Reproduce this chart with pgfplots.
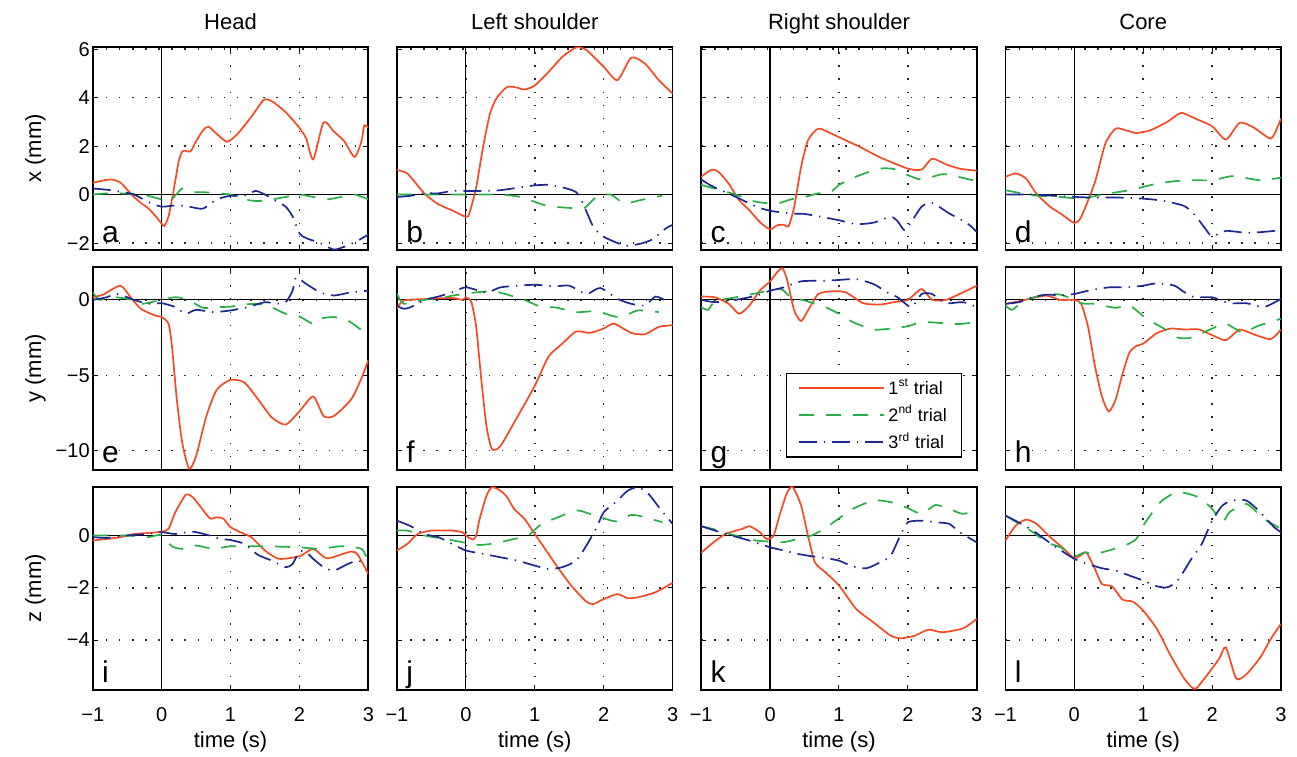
\documentclass[border=0pt]{standalone}
\usepackage{fontspec}
\setmainfont{Liberation Sans}
\usepackage{pgfplots}
\pgfplotsset{compat=1.18}
\usepgfplotslibrary{groupplots}

\definecolor{cred}{RGB}{245,75,35}
\definecolor{cgreen}{RGB}{40,175,70}
\definecolor{cblue}{RGB}{30,40,145}

\pgfplotsset{
  t1/.style={cred, solid, line width=0.85pt, smooth, tension=0.4},
  t2/.style={cgreen, line width=0.85pt, dash pattern=on 7.5pt off 6pt, smooth, tension=0.4},
  t3/.style={cblue, line width=0.85pt, dash pattern=on 9pt off 3.5pt on 0.7pt off 3.5pt, smooth, tension=0.4},
  zl/.style={black, line width=0.6pt, forget plot},
  row1/.style={ymin=-2.3, ymax=6.1, ytick={-2,0,2,4,6}},
  row2/.style={ymin=-11.3, ymax=2.2, ytick={-10,-5,0}},
  row3/.style={ymin=-5.92, ymax=1.87, ytick={-4,-2,0}},
}
\newcommand\plab[1]{\node[anchor=base west, inner sep=0pt, font=\fontsize{15}{15}\selectfont] at ([xshift=4.5pt,yshift=3.65pt]rel axis cs:0,0) {#1};}
\newcommand\ttl[1]{\node[anchor=base, inner sep=0pt, font=\fontsize{11}{12}\selectfont] at ([yshift=8.7pt]rel axis cs:0.5,1) {#1};}
\newcommand\xlab{\node[anchor=base, inner sep=0pt, font=\fontsize{11}{12}\selectfont] at ([yshift=-28.5pt]rel axis cs:0.5,0) {time (s)};}
\newcommand\ylab[1]{\node[rotate=90, anchor=base, inner sep=0pt, font=\fontsize{11}{12}\selectfont] at ([xshift=-25.85pt]rel axis cs:0,0.5) {#1};}
\newcommand\zl[2]{\addplot[zl] coordinates {(-1,0) (3,0)};\addplot[zl] coordinates {(0,#1) (0,#2)};}

\begin{document}
\begin{tikzpicture}
\begin{groupplot}[
  group style={group size=4 by 3, horizontal sep=14.3pt, vertical sep=8.2pt,
    xticklabels at=edge bottom, yticklabels at=edge left},
  scale only axis, width=137.75pt, height=101.75pt,
  clip mode=individual,
  xmin=-1, xmax=3, xtick={-1,0,1,2,3}, xticklabels={−1,0,1,2,3},
  tick align=inside, major tick length=2.5pt,
  tick style={black, line width=0.5pt},
  axis line style={black, line width=0.9pt},
  grid=major,
  major grid style={black!85, line width=0.75pt, dash pattern=on 0.75pt off 5.8pt},
  ticklabel style={font=\fontsize{10}{11}\selectfont},
  xticklabel style={anchor=north, inner sep=0pt, yshift=-8.5pt},
  yticklabel style={anchor=east, inner sep=0pt, xshift=-1.35pt},
  legend image code/.code={\draw[#1] (0pt,0pt) -- (42.5pt,0pt);},
]
% ---------- a
\nextgroupplot[row1, yticklabels={−2,0,2,4,6}]
\zl{-2.3}{6.1}
\addplot[t1] coordinates {(-1,0.48) (-0.85,0.58) (-0.72,0.62) (-0.6,0.5) (-0.5,0.2) (-0.4,-0.1) (-0.3,-0.35) (-0.2,-0.55) (-0.1,-0.85) (0,-1.2) (0.04,-1.3) (0.1,-0.9) (0.15,-0.2) (0.2,0.6) (0.25,1.4) (0.3,1.78) (0.35,1.8) (0.42,1.78) (0.5,2.2) (0.6,2.65) (0.68,2.8) (0.8,2.5) (0.95,2.18) (1.1,2.5) (1.3,3.2) (1.48,3.9) (1.6,3.85) (1.8,3.4) (2.0,2.75) (2.1,2.3) (2.2,1.45) (2.35,2.98) (2.5,2.6) (2.65,2.2) (2.8,1.55) (2.9,2.2) (2.94,2.85) (3.0,2.75)};
\addplot[t2] coordinates {(-1,0.0) (-0.8,0.05) (-0.6,0.05) (-0.4,0.02) (-0.2,-0.05) (0,-0.2) (0.13,-0.23) (0.3,0.25) (0.45,0.1) (0.6,0.1) (0.8,0.05) (1.0,0.0) (1.2,-0.2) (1.4,-0.27) (1.6,-0.2) (1.8,-0.1) (2.0,0.0) (2.2,-0.1) (2.4,-0.2) (2.6,-0.1) (2.8,0.0) (3.0,-0.2)};
\addplot[t3] coordinates {(-1,0.25) (-0.8,0.2) (-0.6,0.12) (-0.4,0.0) (-0.2,-0.3) (0,-0.5) (0.22,-0.44) (0.4,-0.5) (0.6,-0.58) (0.8,-0.2) (1.0,-0.05) (1.2,-0.05) (1.36,0.15) (1.5,0.0) (1.65,-0.25) (1.8,-0.5) (1.9,-0.9) (2.0,-1.6) (2.1,-1.8) (2.3,-2.0) (2.5,-2.27) (2.7,-2.1) (2.85,-1.9) (3.0,-1.65)};
\plab{a}\ttl{Head}\ylab{x (mm)}
% ---------- b
\nextgroupplot[row1]
\zl{-2.3}{6.1}
\addplot[t1] coordinates {(-1,1.0) (-0.85,0.87) (-0.6,0.04) (-0.4,-0.4) (-0.2,-0.65) (0,-0.92) (0.05,-0.78) (0.15,0.3) (0.25,1.97) (0.35,3.34) (0.45,4.0) (0.6,4.44) (0.75,4.41) (0.85,4.33) (1.0,4.5) (1.2,5.06) (1.4,5.68) (1.6,6.07) (1.75,5.96) (2.0,5.27) (2.2,4.72) (2.4,5.65) (2.6,5.4) (2.8,4.72) (3.0,4.17)};
\addplot[t2] coordinates {(-1,0.0) (-0.5,0.0) (0,0.0) (0.5,0.0) (0.8,-0.1) (1.0,-0.3) (1.2,-0.48) (1.5,-0.55) (1.7,-0.58) (1.8,-0.35) (1.9,-0.1) (2.1,0.0) (2.3,-0.37) (2.5,-0.25) (2.85,-0.05)};
\addplot[t3] coordinates {(-1,-0.1) (-0.8,-0.05) (-0.6,0.05) (-0.4,0.05) (-0.2,0.15) (0,0.15) (0.3,0.15) (0.5,0.18) (0.8,0.3) (1.0,0.38) (1.2,0.4) (1.4,0.3) (1.6,0.1) (1.7,-0.37) (1.85,-1.33) (2.0,-1.74) (2.3,-2.1) (2.5,-2.05) (2.7,-1.86) (2.9,-1.4) (3.0,-1.25)};
\plab{b}\ttl{Left shoulder}
% ---------- c
\nextgroupplot[row1]
\zl{-2.3}{6.1}
\addplot[t1] coordinates {(-1,0.73) (-0.85,1.03) (-0.75,0.94) (-0.6,0.45) (-0.45,-0.23) (-0.3,-0.65) (-0.15,-1.13) (0,-1.44) (0.1,-1.27) (0.2,-1.25) (0.27,-1.3) (0.35,-0.5) (0.45,1.14) (0.55,2.24) (0.7,2.72) (0.9,2.5) (1.05,2.3) (1.3,1.97) (1.6,1.53) (2.0,1.07) (2.2,1.03) (2.35,1.48) (2.55,1.25) (2.75,1.07) (3.0,0.98)};
\addplot[t2] coordinates {(-1,0.4) (-0.75,0.2) (-0.5,0.0) (-0.2,-0.3) (0.1,-0.37) (0.3,-0.2) (0.5,-0.1) (0.7,0.05) (0.9,0.15) (1.0,0.4) (1.3,0.8) (1.6,1.07) (1.8,1.05) (2.0,0.8) (2.2,0.62) (2.5,0.84) (2.7,0.75) (3.0,0.55)};
\addplot[t3] coordinates {(-1,0.62) (-0.85,0.36) (-0.6,0.04) (-0.4,-0.23) (-0.2,-0.5) (0,-0.67) (0.3,-0.78) (0.5,-0.8) (0.75,-0.92) (1.0,-1.06) (1.25,-1.22) (1.5,-1.16) (1.75,-0.92) (1.85,-1.1) (1.95,-1.47) (2.05,-1.13) (2.2,-0.5) (2.35,-0.34) (2.6,-0.78) (2.85,-1.16) (3.0,-1.54)};
\plab{c}\ttl{Right shoulder}
% ---------- d
\nextgroupplot[row1]
\zl{-2.3}{6.1}
\addplot[t1] coordinates {(-1,0.73) (-0.85,0.87) (-0.7,0.66) (-0.55,0.04) (-0.35,-0.51) (-0.2,-0.78) (0,-1.17) (0.1,-0.92) (0.3,0.52) (0.45,2.1) (0.6,2.72) (0.75,2.65) (0.9,2.54) (1.1,2.65) (1.35,3.0) (1.55,3.37) (1.75,3.14) (2.0,2.82) (2.2,2.27) (2.4,2.96) (2.6,2.77) (2.85,2.31) (2.95,2.79) (3.0,3.14)};
\addplot[t2] coordinates {(-1,0.18) (-0.6,-0.03) (-0.2,-0.1) (0.1,-0.17) (0.4,0.0) (0.8,0.18) (1.2,0.45) (1.6,0.59) (2.0,0.59) (2.3,0.76) (2.7,0.59) (3.0,0.7)};
\addplot[t3] coordinates {(-1,0.0) (-0.6,0.0) (-0.2,-0.07) (0.2,-0.12) (0.6,-0.12) (1.0,-0.17) (1.3,-0.26) (1.6,-0.48) (1.75,-0.85) (1.9,-1.4) (2.0,-1.72) (2.2,-1.5) (2.5,-1.58) (2.75,-1.54) (3.0,-1.47)};
\plab{d}\ttl{Core}
% ---------- e
\nextgroupplot[row2, yticklabels={−10,−5,0}]
\zl{-11.3}{2.2}
\addplot[t1] coordinates {(-1,0.17) (-0.85,0.35) (-0.6,0.94) (-0.45,0.17) (-0.3,-0.6) (-0.1,-1.03) (0,-1.14) (0.1,-1.58) (0.15,-3.1) (0.22,-6.6) (0.3,-9.5) (0.4,-11.2) (0.5,-10.35) (0.65,-7.7) (0.8,-5.96) (1.0,-5.3) (1.2,-5.48) (1.4,-6.6) (1.6,-7.8) (1.8,-8.27) (2.0,-7.39) (2.2,-6.4) (2.35,-7.7) (2.5,-7.7) (2.75,-6.6) (2.9,-5.2) (3.0,-4.0)};
\addplot[t2] coordinates {(-1,0.5) (-0.9,0.0) (-0.75,0.2) (-0.5,0.07) (-0.3,-0.26) (-0.1,-0.1) (0.2,0.18) (0.4,-0.04) (0.6,-0.53) (0.8,-0.48) (1.0,-0.45) (1.2,-0.3) (1.4,-0.28) (1.6,-0.5) (1.8,-0.92) (2.0,-1.1) (2.1,-1.36) (2.2,-1.58) (2.3,-1.25) (2.5,-1.14) (2.7,-1.36) (2.9,-2.0) (3.0,-2.24)};
\addplot[t3] coordinates {(-1,0.0) (-0.8,0.17) (-0.65,0.4) (-0.4,0.0) (-0.2,-0.26) (0,-0.22) (0.2,-0.48) (0.35,-0.92) (0.5,-0.66) (0.75,-0.81) (1.0,-0.7) (1.25,-0.48) (1.5,-0.15) (1.65,-0.25) (1.8,-0.15) (1.9,0.61) (1.95,1.49) (2.1,1.05) (2.3,0.5) (2.5,0.29) (2.75,0.5) (3.0,0.61)};
\plab{e}\ylab{y (mm)}
% ---------- f
\nextgroupplot[row2]
\zl{-11.3}{2.2}
\addplot[t1] coordinates {(-1,-0.59) (-0.9,-0.04) (-0.5,0.07) (-0.2,0.13) (-0.05,0.0) (0,0.17) (0.08,-0.15) (0.15,-1.8) (0.22,-5.1) (0.3,-8.4) (0.38,-9.9) (0.5,-9.7) (0.7,-8.14) (1.0,-5.7) (1.2,-3.76) (1.4,-2.9) (1.6,-2.1) (1.8,-2.19) (2.0,-1.9) (2.15,-1.58) (2.4,-2.19) (2.6,-2.28) (2.8,-1.79) (3.0,-1.68)};
\addplot[t2] coordinates {(-1,0.4) (-0.9,-0.26) (-0.6,0.0) (-0.3,0.17) (-0.2,0.28) (0.15,0.5) (0.4,0.57) (0.6,0.35) (0.85,0.0) (1.1,-0.48) (1.3,-0.5) (1.6,-0.81) (1.9,-0.75) (2.1,-1.03) (2.25,-1.14) (2.5,-0.7) (2.8,-0.81)};
\addplot[t3] coordinates {(-1,-0.4) (-0.9,-0.59) (-0.8,-0.48) (-0.6,0.0) (-0.4,0.22) (-0.2,0.5) (0,0.83) (0.3,0.5) (0.5,0.83) (0.75,0.94) (1.0,1.0) (1.3,0.9) (1.5,0.94) (1.75,0.39) (1.95,0.79) (2.2,0.07) (2.4,-0.26) (2.6,-0.37) (2.75,0.22) (2.9,-0.04)};
\plab{f}
% ---------- g
\nextgroupplot[row2, legend style={at={(1,0)}, anchor=south east, xshift=-7.15pt, yshift=6.35pt, draw=black, line width=0.6pt, fill=white, font=\fontsize{9}{10}\selectfont, inner xsep=5.5pt, inner ysep=0.5pt, row sep=0pt, cells={anchor=west}}]
\zl{-11.3}{2.2}
\addplot[t1] coordinates {(-1,0.22) (-0.8,0.17) (-0.6,-0.26) (-0.45,-0.92) (-0.3,-0.37) (-0.15,0.61) (0,1.23) (0.1,1.82) (0.18,2.1) (0.25,1.27) (0.35,-0.7) (0.45,-1.4) (0.55,-0.7) (0.7,0.39) (0.9,0.57) (1.1,0.5) (1.35,-0.22) (1.6,-0.31) (1.8,-0.15) (2.0,0.0) (2.2,0.72) (2.35,0.0) (2.55,0.0) (2.75,0.39) (3.0,0.94)};
\addlegendentry{1\textsuperscript{st} trial}
\addplot[t2] coordinates {(-1,-0.48) (-0.9,-0.66) (-0.8,-0.1) (-0.5,0.17) (-0.2,0.44) (0.15,0.72) (0.3,0.18) (0.5,-0.04) (0.8,-0.48) (1.0,-0.92) (1.2,-1.47) (1.5,-1.97) (1.75,-1.9) (2.0,-1.75) (2.2,-1.47) (2.5,-1.54) (2.75,-1.6) (3.0,-1.47)};
\addlegendentry{2\textsuperscript{nd} trial}
\addplot[t3] coordinates {(-1,0.0) (-0.8,-0.15) (-0.5,0.0) (-0.2,0.28) (0,0.61) (0.2,0.83) (0.45,1.23) (0.8,1.27) (1.0,1.32) (1.25,1.38) (1.5,1.05) (1.7,0.5) (1.85,0.17) (2.05,-0.48) (2.2,0.39) (2.35,0.39) (2.55,-0.22) (2.8,-0.15) (3.0,-0.48)};
\addlegendentry{3\textsuperscript{rd} trial}
\plab{g}
% ---------- h
\nextgroupplot[row2]
\zl{-11.3}{2.2}
\addplot[t1] coordinates {(-1,-0.26) (-0.8,-0.09) (-0.6,0.13) (-0.4,0.28) (-0.2,0.0) (0,0.0) (0.1,-0.26) (0.2,-1.8) (0.3,-4.4) (0.4,-6.4) (0.5,-7.4) (0.6,-6.6) (0.7,-4.9) (0.8,-3.5) (0.9,-3.06) (1.0,-2.9) (1.2,-2.2) (1.4,-1.9) (1.6,-1.97) (1.8,-1.95) (2.0,-2.34) (2.2,-2.67) (2.4,-1.97) (2.6,-2.28) (2.85,-2.6) (3.0,-1.97)};
\addplot[t2] coordinates {(-1,-0.37) (-0.9,-0.66) (-0.75,-0.1) (-0.5,0.28) (-0.2,0.35) (0.1,-0.22) (0.3,-0.26) (0.6,-0.53) (0.8,-0.37) (1.05,-1.25) (1.3,-1.9) (1.5,-2.5) (1.7,-2.5) (2.0,-1.9) (2.2,-1.58) (2.45,-2.19) (2.65,-1.75) (3.0,-1.25)};
\addplot[t3] coordinates {(-1,-0.26) (-0.8,-0.15) (-0.6,0.17) (-0.4,0.35) (-0.2,0.3) (0,0.39) (0.2,0.61) (0.5,0.83) (0.75,0.83) (1.0,0.94) (1.2,1.1) (1.45,0.95) (1.6,0.5) (1.75,0.17) (2.0,0.17) (2.25,-0.22) (2.5,-0.22) (2.75,-0.48) (3.0,0.07)};
\plab{h}
% ---------- i
\nextgroupplot[row3, yticklabels={−4,−2,0}]
\zl{-5.92}{1.87}
\addplot[t1] coordinates {(-1,-0.19) (-0.8,-0.13) (-0.6,-0.06) (-0.4,0.06) (-0.2,0.1) (0,0.15) (0.1,0.26) (0.2,0.9) (0.35,1.56) (0.45,1.47) (0.55,1.15) (0.7,0.66) (0.8,0.7) (0.9,0.64) (1.0,0.32) (1.2,0.06) (1.3,-0.06) (1.5,-0.57) (1.7,-0.89) (2.0,-0.79) (2.2,-0.51) (2.4,-0.87) (2.75,-0.61) (2.85,-0.75) (3.0,-1.47)};
\addplot[t2] coordinates {(-1,0.0) (-0.5,0.0) (-0.2,-0.06) (0,0.02) (0.15,-0.41) (0.3,-0.51) (0.5,-0.38) (0.75,-0.51) (1.0,-0.41) (1.5,-0.41) (2.0,-0.45) (2.3,-0.51) (2.6,-0.41) (2.9,-0.51) (3.0,-1.02)};
\addplot[t3] coordinates {(-1,-0.06) (-0.8,-0.09) (-0.5,0.0) (-0.2,0.06) (0,0.13) (0.2,0.06) (0.45,0.15) (0.7,0.0) (0.85,-0.13) (1.0,-0.17) (1.2,-0.32) (1.4,-0.74) (1.6,-0.96) (1.8,-1.21) (1.9,-1.09) (2.0,-0.61) (2.1,-0.64) (2.2,-0.89) (2.35,-1.21) (2.5,-1.34) (2.7,-1.09) (2.85,-0.96) (3.0,-1.15)};
\plab{i}\ylab{z (mm)}\xlab
% ---------- j
\nextgroupplot[row3]
\zl{-5.92}{1.87}
\addplot[t1] coordinates {(-1,-0.57) (-0.85,-0.32) (-0.7,0.06) (-0.5,0.19) (-0.2,0.19) (-0.05,0.13) (0,0.0) (0.1,-0.15) (0.15,0.0) (0.2,0.64) (0.3,1.53) (0.38,1.85) (0.5,1.72) (0.6,1.47) (0.7,1.02) (0.85,0.64) (1.0,0.06) (1.15,-0.51) (1.35,-1.28) (1.55,-1.98) (1.75,-2.53) (1.85,-2.62) (2.0,-2.43) (2.2,-2.24) (2.35,-2.4) (2.5,-2.36) (2.75,-2.17) (3.0,-1.81)};
\addplot[t2] coordinates {(-1,0.19) (-0.85,0.19) (-0.6,0.0) (-0.3,-0.13) (-0.1,-0.23) (0.2,-0.36) (0.45,-0.28) (0.7,-0.13) (0.9,0.0) (1.1,0.45) (1.3,0.66) (1.6,0.96) (1.8,0.83) (2.0,0.66) (2.2,0.54) (2.4,0.79) (2.6,0.7) (2.85,0.51)};
\addplot[t3] coordinates {(-1,0.57) (-0.8,0.36) (-0.6,0.06) (-0.4,-0.06) (-0.2,-0.32) (0,-0.57) (0.25,-0.7) (0.5,-0.83) (0.75,-0.96) (1.0,-1.15) (1.2,-1.28) (1.4,-1.21) (1.6,-0.96) (1.75,-0.38) (1.9,0.32) (2.0,0.89) (2.2,1.34) (2.35,1.72) (2.5,1.85) (2.65,1.6) (2.8,1.09) (3.0,0.45)};
\plab{j}\xlab
% ---------- k
\nextgroupplot[row3]
\zl{-5.92}{1.87}
\addplot[t1] coordinates {(-1,-0.66) (-0.85,-0.32) (-0.65,0.06) (-0.4,0.26) (-0.3,0.36) (-0.15,0.13) (-0.05,-0.13) (0.05,0.0) (0.15,0.89) (0.25,1.66) (0.33,1.85) (0.45,1.15) (0.55,0.0) (0.65,-1.02) (0.8,-1.4) (1.0,-1.91) (1.25,-2.81) (1.5,-3.32) (1.75,-3.83) (1.9,-3.93) (2.1,-3.83) (2.3,-3.6) (2.5,-3.7) (2.8,-3.55) (3.0,-3.19)};
\addplot[t2] coordinates {(-1,0.36) (-0.8,0.23) (-0.5,0.0) (-0.2,-0.19) (0,-0.23) (0.2,-0.25) (0.4,-0.13) (0.6,0.0) (0.8,0.28) (1.0,0.66) (1.2,1.02) (1.5,1.34) (1.75,1.28) (2.0,1.05) (2.2,0.83) (2.4,1.17) (2.6,1.02) (2.8,0.83) (3.0,1.0)};
\addplot[t3] coordinates {(-1,0.36) (-0.8,0.19) (-0.6,0.03) (-0.3,-0.19) (0,-0.45) (0.2,-0.57) (0.4,-0.7) (0.6,-0.79) (0.8,-0.86) (1.0,-0.96) (1.2,-1.18) (1.4,-1.25) (1.6,-1.02) (1.75,-0.77) (1.9,0.06) (2.0,0.51) (2.2,0.57) (2.4,0.51) (2.6,0.45) (2.75,0.13) (3.0,-0.26)};
\plab{k}\xlab
% ---------- l
\nextgroupplot[row3]
\zl{-5.92}{1.87}
\addplot[t1] coordinates {(-1,-0.19) (-0.85,0.38) (-0.7,0.61) (-0.55,0.45) (-0.35,-0.06) (-0.15,-0.51) (0,-0.87) (0.1,-0.74) (0.18,-0.66) (0.3,-1.28) (0.4,-1.85) (0.55,-1.95) (0.7,-2.45) (0.85,-2.53) (1.0,-2.87) (1.2,-3.58) (1.4,-4.6) (1.6,-5.49) (1.75,-5.87) (1.9,-5.43) (2.1,-4.72) (2.2,-4.28) (2.35,-5.47) (2.5,-5.3) (2.7,-4.66) (2.85,-3.96) (3.0,-3.38)};
\addplot[t2] coordinates {(-1,0.77) (-0.8,0.45) (-0.6,0.13) (-0.4,-0.26) (-0.2,-0.45) (0,-0.79) (0.15,-0.64) (0.3,-0.7) (0.5,-0.57) (0.75,-0.36) (0.9,-0.13) (1.0,0.38) (1.25,1.28) (1.5,1.66) (1.8,1.47) (2.0,1.02) (2.15,0.51) (2.25,0.89) (2.5,1.21) (2.75,0.64) (3.0,0.26)};
\addplot[t3] coordinates {(-1,0.77) (-0.8,0.49) (-0.6,0.19) (-0.3,-0.38) (0,-0.89) (0.2,-1.09) (0.4,-1.25) (0.6,-1.34) (0.8,-1.53) (1.0,-1.72) (1.2,-1.94) (1.35,-1.98) (1.5,-1.72) (1.7,-0.89) (1.85,-0.32) (2.0,0.57) (2.15,1.15) (2.3,1.34) (2.5,1.34) (2.7,0.89) (2.9,0.32) (3.0,0.13)};
\plab{l}\xlab
\end{groupplot}
\pgfresetboundingbox
\useasboundingbox ([xshift=-46.35pt,yshift=23.35pt]group c1r1.north west) rectangle ([xshift=8pt,yshift=-33pt]group c4r3.south east);
\end{tikzpicture}
\end{document}
